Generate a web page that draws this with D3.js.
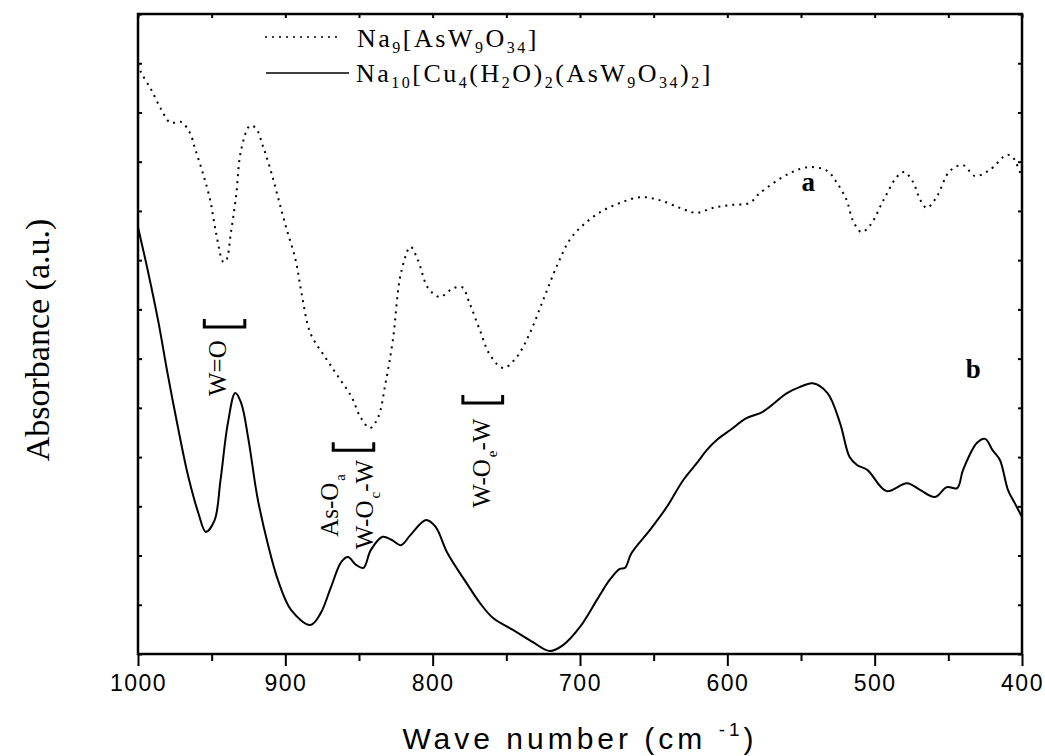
<!DOCTYPE html>
<html>
<head>
<meta charset="utf-8">
<script src="https://cdn.jsdelivr.net/npm/d3@7"></script>
<style>
  body { margin: 0; background: #fff; }
  svg { display: block; }
  .serif { font-family: "Liberation Serif", "Times New Roman", serif; }
  .sans { font-family: "Liberation Sans", Arial, sans-serif; }
</style>
</head>
<body>
<svg id="chart" width="1045" height="756"></svg>
<script>
// curve a : Na9[AsW9O34] (dotted)
var waveA = [1000, 998, 991, 984, 978, 971, 965, 961, 956, 951, 947, 942, 940, 937, 933.5, 930, 924, 920, 915, 910,
  905, 899.5, 893, 889, 883, 873, 864, 855, 849, 842.5, 837, 832, 827, 821.5, 815, 810, 803, 795, 790, 786,
  780, 775, 768, 761, 752, 743, 734, 725, 716, 707, 698, 686, 673, 659, 646, 632, 621, 610, 598, 585,
  578, 557.5, 544, 532, 526, 519, 515, 509, 503, 494, 485, 480, 474, 469, 464.5, 458, 449, 440, 432, 422,
  410, 406, 400];
var absA = [11.98, 11.82, 11.46, 11.05, 10.79, 10.81, 10.60, 10.24, 9.77, 9.22, 8.55, 7.96, 8.00, 8.55, 9.28, 10.24, 10.73, 10.68, 10.30, 9.83,
  9.28, 8.67, 8.00, 7.33, 6.52, 6.03, 5.63, 5.22, 4.81, 4.59, 4.81, 5.50, 6.38, 7.74, 8.27, 8.00, 7.43, 7.25, 7.35, 7.43,
  7.45, 7.13, 6.58, 6.07, 5.81, 6.03, 6.52, 7.19, 7.86, 8.41, 8.71, 8.98, 9.16, 9.28, 9.22, 9.06, 8.96, 9.06, 9.12, 9.16,
  9.36, 9.77, 9.89, 9.81, 9.59, 9.22, 8.82, 8.57, 8.71, 9.22, 9.69, 9.79, 9.59, 9.22, 9.06, 9.28, 9.81, 9.93, 9.71, 9.83,
  10.14, 10.08, 9.67];

// curve b : Na10[Cu4(H2O)2(AsW9O34)2] (solid)
var waveB = [1000, 993, 986, 980, 973, 966, 959, 954, 948, 944, 939, 934, 930, 925, 919, 912, 905, 896, 883, 876,
  869, 862, 857.5, 852, 847, 842, 834, 828, 821.5, 815, 804.5, 798, 790, 777, 768, 759, 745.5, 732, 720.4,
  711.5, 700, 688.5, 680, 673, 669.5, 665, 652.5, 641, 630, 620.6, 614, 607, 598, 587, 576, 559.5, 551, 542, 532,
  523.5, 517, 512, 505, 492, 478, 469, 459, 451, 444, 440, 430.5, 425, 420, 415, 409.5, 405, 400];
var absB = [8.67, 7.74, 6.72, 5.71, 4.62, 3.62, 2.86, 2.48, 2.72, 3.53, 4.69, 5.30, 5.10, 4.35, 3.19, 2.25, 1.50, 0.89, 0.59, 0.83,
  1.36, 1.87, 1.97, 1.81, 1.75, 2.11, 2.38, 2.32, 2.21, 2.42, 2.72, 2.58, 2.05, 1.44, 1.04, 0.73, 0.49, 0.24, 0.06,
  0.18, 0.55, 1.10, 1.50, 1.73, 1.75, 2.05, 2.52, 2.99, 3.53, 3.88, 4.14, 4.35, 4.55, 4.79, 4.92, 5.30, 5.42, 5.50, 5.30,
  4.69, 4.00, 3.84, 3.74, 3.31, 3.47, 3.33, 3.19, 3.39, 3.37, 3.74, 4.29, 4.37, 4.14, 3.94, 3.33, 3.07, 2.78];

var majorTicks = [1000, 900, 800, 700, 600, 500, 400];
var minorTicks = [950, 850, 750, 650, 550, 450];
var yTicks = d3.range(0, 14);

// band brackets: wavenumber span and absorbance level
var bands = [
  {from: 955, to: 927.5, level: 6.64},
  {from: 867.5, to: 840, level: 4.14},
  {from: 779.5, to: 752.5, level: 5.10}
];
var bandLabels = [
  {wn: 940.5, y: 5.24, parts: [["W=O", 0]]},
  {wn: 864.5, y: 2.38, parts: [["As-O", 0], ["a", 1]]},
  {wn: 840.5, y: 2.13, parts: [["W-O", 0], ["c", 1], ["-W", 0]]},
  {wn: 761, y: 2.97, parts: [["W-O", 0], ["e", 1], ["-W", 0]]}
];
var curveLabels = [{t: "a", wn: 545, y: 9.40}, {t: "b", wn: 433, y: 5.61}];

var svg = d3.select("#chart");
var pLeft = 138, pRight = 1022, pTop = 14, pBottom = 654;

var x = d3.scaleLinear().domain([1000, 400]).range([pLeft, pRight]);
var y = d3.scaleLinear().domain([0, 13]).range([pBottom, pTop]);

// axes
function styleAxis(g) {
  g.select(".domain").remove();
  g.selectAll(".tick line").attr("stroke", "#000").attr("stroke-width", 2);
}

svg.append("g").attr("transform", "translate(0," + pBottom + ")")
  .call(d3.axisBottom(x).tickValues(minorTicks).tickSize(7).tickFormat(""))
  .call(styleAxis);

var xb = svg.append("g").attr("transform", "translate(0," + pBottom + ")")
  .call(d3.axisBottom(x).tickValues(majorTicks).tickSize(12).tickPadding(9).tickFormat(d3.format("d")))
  .call(styleAxis);
xb.selectAll(".tick text")
  .attr("class", "sans")
  .attr("font-size", 23)
  .attr("fill", "#000")
  .attr("letter-spacing", 1.5);

svg.append("g").attr("transform", "translate(0," + pTop + ")")
  .call(d3.axisTop(x).tickValues(majorTicks.concat(minorTicks)).tickSize(-4).tickFormat(""))
  .call(styleAxis);

svg.append("g").attr("transform", "translate(" + pLeft + ",0)")
  .call(d3.axisLeft(y).tickValues(yTicks).tickSize(-4).tickFormat(""))
  .call(styleAxis);

svg.append("g").attr("transform", "translate(" + pRight + ",0)")
  .call(d3.axisRight(y).tickValues(yTicks).tickSize(-4).tickFormat(""))
  .call(styleAxis);

svg.append("rect")
  .attr("x", pLeft).attr("y", pTop)
  .attr("width", pRight - pLeft).attr("height", pBottom - pTop)
  .attr("fill", "none").attr("stroke", "#000").attr("stroke-width", 2.5);

// curves
var line = d3.line()
  .x(d => x(d[0]))
  .y(d => y(d[1]))
  .curve(d3.curveCatmullRom.alpha(0.5));

svg.append("path")
  .datum(waveA.map((w, i) => [w, absA[i]]))
  .attr("d", line)
  .attr("fill", "none")
  .attr("stroke", "#000")
  .attr("stroke-width", 2)
  .attr("stroke-dasharray", "2 5");

svg.append("path")
  .datum(waveB.map((w, i) => [w, absB[i]]))
  .attr("d", line)
  .attr("fill", "none")
  .attr("stroke", "#000")
  .attr("stroke-width", 2);

// band brackets
svg.selectAll(".band").data(bands).enter().append("path")
  .attr("d", d => "M" + x(d.from) + "," + (y(d.level) - 8) + "V" + y(d.level) +
    "H" + x(d.to) + "V" + (y(d.level) - 8))
  .attr("fill", "none").attr("stroke", "#000").attr("stroke-width", 3);

// band labels, rotated
bandLabels.forEach(function(b) {
  var t = svg.append("text")
    .attr("class", "serif")
    .attr("font-size", 25)
    .attr("transform", "translate(" + x(b.wn) + "," + y(b.y) + ") rotate(-90)");
  var prev = 0;
  b.parts.forEach(function(p) {
    var s = t.append("tspan").text(p[0]);
    if (p[1]) s.attr("font-size", 15).attr("dy", 7).attr("dx", 2);
    else if (prev) s.attr("dy", -7);
    prev = p[1];
  });
});

// curve letters
svg.selectAll(".clab").data(curveLabels).enter().append("text")
  .attr("class", "serif")
  .attr("font-size", 27)
  .attr("font-weight", "bold")
  .attr("text-anchor", "middle")
  .attr("x", d => x(d.wn))
  .attr("y", d => y(d.y))
  .text(d => d.t);

// legend
function formula(g, parts, xPos, yPos) {
  var t = g.append("text")
    .attr("class", "serif")
    .attr("font-size", 26)
    .attr("letter-spacing", 2.5)
    .attr("x", xPos).attr("y", yPos);
  var prev = 0;
  parts.forEach(function(p) {
    var s = t.append("tspan").text(p[0]);
    if (p[1] && !prev) s.attr("font-size", 16).attr("dy", 6);
    else if (!p[1] && prev) s.attr("dy", -6);
    prev = p[1];
  });
}

var legend = svg.append("g");
legend.append("line")
  .attr("x1", 265).attr("x2", 338).attr("y1", 37).attr("y2", 37)
  .attr("stroke", "#000").attr("stroke-width", 1.5).attr("stroke-dasharray", "2 5");
legend.append("line")
  .attr("x1", 266).attr("x2", 349).attr("y1", 73).attr("y2", 73)
  .attr("stroke", "#000").attr("stroke-width", 1.5);

formula(legend, [["Na", 0], ["9", 1], ["[AsW", 0], ["9", 1], ["O", 0], ["34", 1], ["]", 0]], 357, 47);
formula(legend, [["Na", 0], ["10", 1], ["[Cu", 0], ["4", 1], ["(H", 0], ["2", 1], ["O)", 0], ["2", 1],
  ["(AsW", 0], ["9", 1], ["O", 0], ["34", 1], [")", 0], ["2", 1], ["]", 0]], 356, 82);

// axis titles
var xt = svg.append("text")
  .attr("class", "sans")
  .attr("font-size", 30)
  .attr("letter-spacing", 4)
  .attr("text-anchor", "middle")
  .attr("x", 580).attr("y", 749);
xt.append("tspan").text("Wave number (cm ");
xt.append("tspan").text("-1").attr("font-size", 19).attr("dy", -13);
xt.append("tspan").text(")").attr("dy", 13);

svg.append("text")
  .attr("class", "serif")
  .attr("font-size", 34)
  .attr("text-anchor", "middle")
  .attr("transform", "translate(49,340) rotate(-90)")
  .text("Absorbance (a.u.)");
</script>
</body>
</html>
